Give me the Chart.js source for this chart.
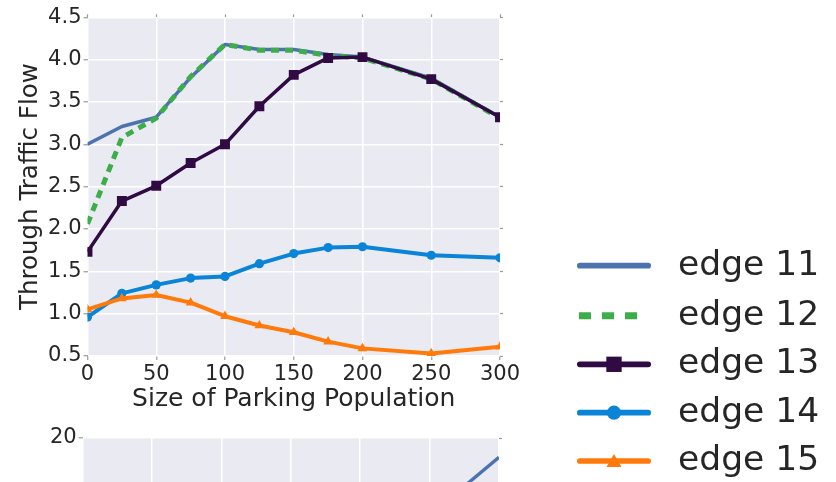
<!DOCTYPE html>
<html>
<head>
<meta charset="utf-8">
<script src="https://cdn.jsdelivr.net/npm/chart.js@4.4.1/dist/chart.umd.min.js"></script>
<style>
  html, body { margin: 0; padding: 0; width: 836px; height: 482px; overflow: hidden; background: #ffffff; }
  #flowChart { position: absolute; left: 0; top: 0; }
  #lowerChart { position: absolute; left: 0; top: 420px; }
</style>
</head>
<body>
<canvas id="flowChart" width="836" height="482"></canvas>
<canvas id="lowerChart" width="540" height="400"></canvas>
<script>
// Parking population sizes (x) and through-traffic flow per edge (y)
const parkingSizes = [0, 25, 50, 75, 100, 125, 150, 175, 200, 250, 300];
const edge11 = [3.00, 3.21, 3.32, 3.79, 4.18, 4.12, 4.12, 4.06, 4.03, 3.78, 3.32];
const edge12 = [2.06, 3.08, 3.31, 3.80, 4.18, 4.11, 4.11, 4.05, 4.02, 3.77, 3.31];
const edge13 = [1.73, 2.33, 2.51, 2.78, 3.00, 3.45, 3.82, 4.02, 4.03, 3.77, 3.32];
const edge14 = [0.96, 1.24, 1.34, 1.42, 1.44, 1.59, 1.71, 1.78, 1.79, 1.69, 1.66];
const edge15 = [1.05, 1.18, 1.22, 1.13, 0.97, 0.86, 0.78, 0.67, 0.59, 0.53, 0.61];
const seriesNames = ['edge 11', 'edge 12', 'edge 13', 'edge 14', 'edge 15'];

// Axis ticks
const xTickValues = [0, 50, 100, 150, 200, 250, 300];
const yTickLabels = ['0.5', '1.0', '1.5', '2.0', '2.5', '3.0', '3.5', '4.0', '4.5'];

// Second panel (only its top edge is on the page)
const lowerSizes = [250, 300];
const lowerEdge11 = [15.2, 18.8];
const lowerYTicks = [0, 5, 10, 15, 20];

const FONT = 'DejaVu Sans';
const INK = '#262626';
const PANEL = '#EAEAF2';
const TICK_MARK = '#9a9a9a';

const toPoints = (xs, ys) => xs.map((x, i) => ({ x: x, y: ys[i] }));

const panelBackground = {
  id: 'panelBackground',
  beforeDraw(chart) {
    const a = chart.chartArea;
    const ctx = chart.ctx;
    ctx.save();
    ctx.fillStyle = PANEL;
    ctx.fillRect(a.left, a.top, a.right - a.left, a.bottom - a.top);
    ctx.restore();
  }
};

// Legend drawn beside the plot: a line sample with its marker, then the label
const sideLegend = {
  id: 'sideLegend',
  afterDraw(chart, args, opts) {
    const ctx = chart.ctx;
    chart.data.datasets.forEach((ds, i) => {
      const y = opts.rows[i];
      ctx.save();
      ctx.strokeStyle = ds.borderColor;
      if (ds.borderDash && ds.borderDash.length) {
        ctx.lineWidth = opts.dashWidth;
        ctx.lineCap = 'butt';
        ctx.setLineDash(opts.dash);
        ctx.beginPath();
        ctx.moveTo(opts.x0 + 2, y);
        ctx.lineTo(opts.x1 - 3, y);
        ctx.stroke();
      } else {
        ctx.lineWidth = opts.lineWidth;
        ctx.lineCap = 'round';
        ctx.beginPath();
        ctx.moveTo(opts.x0 + opts.lineWidth / 2, y);
        ctx.lineTo(opts.x1 - opts.lineWidth / 2, y);
        ctx.stroke();
      }
      ctx.setLineDash([]);
      if (ds.pointRadius > 0) {
        ctx.fillStyle = ds.pointBackgroundColor;
        const cx = (opts.x0 + opts.x1) / 2;
        const r = ds.pointRadius * opts.markerScale;
        const cy = ds.pointStyle === 'triangle' ? y + r * 0.2 : y;
        Chart.helpers.drawPoint(ctx, { pointStyle: ds.pointStyle, radius: r, borderWidth: 0, rotation: 0 }, cx, cy);
      }
      ctx.fillStyle = INK;
      ctx.font = opts.fontSize + 'px "' + FONT + '"';
      ctx.textAlign = 'left';
      ctx.textBaseline = 'middle';
      ctx.fillText(ds.label, opts.textX, y);
      ctx.restore();
    });
  }
};

const tickFont = { family: FONT, size: 21 };

new Chart(document.getElementById('flowChart'), {
  type: 'line',
  data: {
    datasets: [
      { label: seriesNames[0], data: toPoints(parkingSizes, edge11), borderColor: '#4C72B0', borderWidth: 3.5,
        pointRadius: 0, order: 5 },
      { label: seriesNames[1], data: toPoints(parkingSizes, edge12), borderColor: '#3CAE49', borderWidth: 5,
        borderDash: [8, 6], pointRadius: 0, order: 4 },
      { label: seriesNames[2], data: toPoints(parkingSizes, edge13), borderColor: '#300A43', borderWidth: 3.5,
        pointStyle: 'rect', pointRadius: 7, pointBackgroundColor: '#300A43', pointBorderWidth: 0, order: 3 },
      { label: seriesNames[3], data: toPoints(parkingSizes, edge14), borderColor: '#0A84D6', borderWidth: 4,
        pointStyle: 'circle', pointRadius: 4.6, pointBackgroundColor: '#0A84D6', pointBorderWidth: 0, order: 2 },
      { label: seriesNames[4], data: toPoints(parkingSizes, edge15), borderColor: '#FF7A0A', borderWidth: 4,
        pointStyle: 'triangle', pointRadius: 5.6, pointBackgroundColor: '#FF7A0A', pointBorderWidth: 0, order: 1 }
    ]
  },
  options: {
    responsive: false,
    animation: false,
    devicePixelRatio: 1,
    layout: { padding: { left: 0, top: 14.3, right: 333, bottom: 0 } },
    elements: { line: { tension: 0, borderJoinStyle: 'round' } },
    plugins: {
      legend: { display: false },
      tooltip: { enabled: false },
      sideLegend: {
        rows: [265.7, 315.7, 364.3, 412.7, 461],
        x0: 577, x1: 651, textX: 678, fontSize: 34.5,
        lineWidth: 5.7, dashWidth: 7, dash: [12, 11], markerScale: 1.55
      }
    },
    scales: {
      x: {
        type: 'linear', position: 'bottom', min: 0, max: 300,
        afterBuildTicks: s => { s.ticks = xTickValues.map(v => ({ value: v })); },
        ticks: { color: INK, font: tickFont, padding: 2, maxRotation: 0, autoSkip: false },
        grid: { color: '#ffffff', lineWidth: 1.5, tickLength: 4, tickColor: TICK_MARK, tickWidth: 1.2 },
        border: { display: false },
        title: { display: true, text: 'Size of Parking Population', color: INK,
                 font: { family: FONT, size: 25 }, padding: { top: 0, bottom: 67.5 } },
        afterFit: s => { s.height = 126; }
      },
      y: {
        type: 'linear', position: 'left', min: 0.5, max: 4.5,
        afterBuildTicks: s => { s.ticks = yTickLabels.map(v => ({ value: parseFloat(v) })); },
        ticks: { color: INK, font: tickFont, padding: 2, callback: (v, i) => yTickLabels[i] },
        grid: { color: '#ffffff', lineWidth: 1.5, tickLength: 4, tickColor: TICK_MARK, tickWidth: 1.2 },
        border: { display: false },
        title: { display: true, text: 'Through Traffic Flow', color: INK,
                 font: { family: FONT, size: 24.5 }, padding: { top: 16.3, bottom: 0 } },
        afterFit: s => { s.width = 87.5; }
      },
      xTop: {
        type: 'linear', axis: 'x', position: 'top', min: 0, max: 300,
        afterBuildTicks: s => { s.ticks = xTickValues.map(v => ({ value: v })); },
        ticks: { display: false },
        grid: { drawOnChartArea: false, tickLength: 3, tickColor: TICK_MARK, tickWidth: 1.2 },
        border: { display: false },
        afterFit: s => { s.height = 3; }
      },
      yRight: {
        type: 'linear', axis: 'y', position: 'right', min: 0.5, max: 4.5,
        afterBuildTicks: s => { s.ticks = yTickLabels.map(v => ({ value: parseFloat(v) })); },
        ticks: { display: false },
        grid: { drawOnChartArea: false, tickLength: 3, tickColor: TICK_MARK, tickWidth: 1.2 },
        border: { display: false },
        afterFit: s => { s.width = 3; }
      }
    }
  },
  plugins: [panelBackground, sideLegend]
});

new Chart(document.getElementById('lowerChart'), {
  type: 'line',
  data: {
    datasets: [
      { label: seriesNames[0], data: toPoints(lowerSizes, lowerEdge11), borderColor: '#4C72B0', borderWidth: 3.5,
        pointRadius: 0 }
    ]
  },
  options: {
    responsive: false,
    animation: false,
    devicePixelRatio: 1,
    layout: { padding: { left: 0, top: 18, right: 38, bottom: 0 } },
    plugins: { legend: { display: false }, tooltip: { enabled: false } },
    scales: {
      x: {
        type: 'linear', position: 'bottom', min: 0, max: 300,
        afterBuildTicks: s => { s.ticks = xTickValues.map(v => ({ value: v })); },
        ticks: { color: INK, font: tickFont, padding: 2, maxRotation: 0, autoSkip: false },
        grid: { color: '#ffffff', lineWidth: 1.5, tickLength: 4, tickColor: TICK_MARK, tickWidth: 1.2 },
        border: { display: false },
        afterFit: s => { s.height = 60; }
      },
      y: {
        type: 'linear', position: 'left', min: 0, max: 20,
        afterBuildTicks: s => { s.ticks = lowerYTicks.map(v => ({ value: v })); },
        ticks: { color: INK, font: tickFont, padding: 2 },
        grid: { color: '#ffffff', lineWidth: 1.5, tickLength: 4, tickColor: TICK_MARK, tickWidth: 1.2 },
        border: { display: false },
        afterFit: s => { s.width = 82.7; }
      },
      yRight: {
        type: 'linear', axis: 'y', position: 'right', min: 0, max: 20,
        afterBuildTicks: s => { s.ticks = lowerYTicks.map(v => ({ value: v })); },
        ticks: { display: false },
        grid: { drawOnChartArea: false, tickLength: 3, tickColor: TICK_MARK, tickWidth: 1.2 },
        border: { display: false },
        afterFit: s => { s.width = 3; }
      }
    }
  },
  plugins: [panelBackground]
});
</script>
</body>
</html>
